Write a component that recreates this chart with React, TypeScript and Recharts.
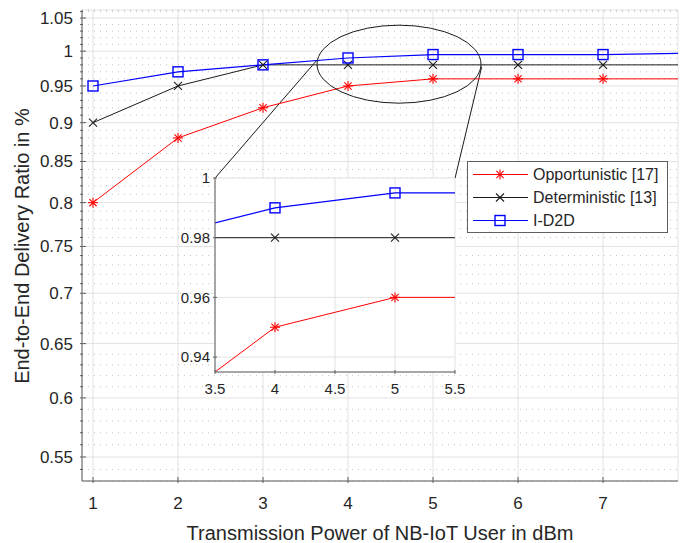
import React from 'react';
import { LineChart, Line, XAxis, YAxis, CartesianGrid, Legend, ReferenceDot, ReferenceLine } from 'recharts';

// transmission power (dBm) and delivery ratios
const powers = [1, 2, 3, 4, 5, 6, 7, 8];
const opportunistic = [0.8, 0.88, 0.92, 0.95, 0.96, 0.96, 0.96, 0.96];
const deterministic = [0.9, 0.95, 0.98, 0.98, 0.98, 0.98, 0.98, 0.98];
const id2d = [0.95, 0.97, 0.98, 0.99, 0.995, 0.995, 0.995, 0.997];

const seriesNames = ['Opportunistic [17]', 'Deterministic [13]', 'I-D2D'];

const xTicks = [1, 2, 3, 4, 5, 6, 7];
const yMajor = [0.55, 0.6, 0.65, 0.7, 0.75, 0.8, 0.85, 0.9, 0.95, 1, 1.05];
const yMinor = [
  0.54, 0.56, 0.57, 0.58, 0.59, 0.61, 0.62, 0.63, 0.64, 0.66, 0.67, 0.68, 0.69,
  0.71, 0.72, 0.73, 0.74, 0.76, 0.77, 0.78, 0.79, 0.81, 0.82, 0.83, 0.84,
  0.86, 0.87, 0.88, 0.89, 0.91, 0.92, 0.93, 0.94, 0.96, 0.97, 0.98, 0.99,
  1.01, 1.02, 1.03, 1.04, 1.06,
];
const yAll = [...yMajor, ...yMinor].sort((a, b) => a - b);

const insetXTicks = [3.5, 4, 4.5, 5, 5.5];
const insetYTicks = [0.94, 0.96, 0.98, 1];

const rows = powers.map((x, i) => ({
  x,
  opp: opportunistic[i],
  det: deterministic[i],
  d2d: id2d[i],
}));

const FONT = '"Liberation Sans", Arial, Helvetica, sans-serif';
const TEXT = '#262626';
const AXIS = '#5f5f5f';
const GRID = '#e2e2e2';
const MINOR = '#c4c4c4';
const RED = '#ff0000';
const BLACK = '#1a1a1a';
const BLUE = '#0000ff';

const Star = ({ cx, cy, color }: any) => (
  <g stroke={color} strokeWidth={1.1}>
    <line x1={cx - 5} x2={cx + 5} y1={cy} y2={cy} />
    <line x1={cx} x2={cx} y1={cy - 5} y2={cy + 5} />
    <line x1={cx - 3.6} x2={cx + 3.6} y1={cy - 3.6} y2={cy + 3.6} />
    <line x1={cx - 3.6} x2={cx + 3.6} y1={cy + 3.6} y2={cy - 3.6} />
  </g>
);

const Cross = ({ cx, cy, color }: any) => (
  <g stroke={color} strokeWidth={1.1}>
    <line x1={cx - 4} x2={cx + 4} y1={cy - 4} y2={cy + 4} />
    <line x1={cx - 4} x2={cx + 4} y1={cy + 4} y2={cy - 4} />
  </g>
);

const Square = ({ cx, cy, color }: any) => (
  <rect x={cx - 5} y={cy - 5} width={10} height={10} fill="none" stroke={color} strokeWidth={1.4} />
);

const markerFor = (key: string, cx: number, cy: number) => {
  if (key === 'opp') return <Star cx={cx} cy={cy} color={RED} />;
  if (key === 'det') return <Cross cx={cx} cy={cy} color={BLACK} />;
  return <Square cx={cx} cy={cy} color={BLUE} />;
};

const dotFor = (key: string) => (p: any) => (
  <g key={`${key}-${p.index}`}>{p.cx != null && p.cy != null ? markerFor(key, p.cx, p.cy) : null}</g>
);

// main axes ticks (MATLAB style, pointing inward)
const LeftTick = (props: any) => {
  const { x, y, payload } = props;
  const major = yMajor.includes(payload.value);
  return (
    <g>
      <line x1={x} x2={x + (major ? 6 : 3)} y1={y} y2={y} stroke={AXIS} />
      {major && (
        <text x={x - 7} y={y} dy="0.35em" textAnchor="end" fontSize={17} fill={TEXT} fontFamily={FONT}>
          {payload.value}
        </text>
      )}
    </g>
  );
};

const RightTick = (props: any) => {
  const { x, y, payload } = props;
  const major = yMajor.includes(payload.value);
  return <line x1={x} x2={x - (major ? 6 : 3)} y1={y} y2={y} stroke={AXIS} />;
};

const BottomTick = (props: any) => {
  const { x, y, payload } = props;
  return (
    <g>
      <line x1={x} x2={x} y1={y} y2={y - 6} stroke={AXIS} />
      <text x={x} y={y + 14} dy="0.71em" textAnchor="middle" fontSize={17} fill={TEXT} fontFamily={FONT}>
        {payload.value}
      </text>
    </g>
  );
};

const TopTick = (props: any) => {
  const { x, y } = props;
  return <line x1={x} x2={x} y1={y} y2={y + 6} stroke={AXIS} />;
};

// inset ticks
const InsetLeftTick = (props: any) => {
  const { x, y, payload } = props;
  return (
    <g>
      <line x1={x} x2={x + 4} y1={y} y2={y} stroke={AXIS} />
      <text x={x - 3} y={y} dy="0.35em" textAnchor="end" fontSize={15} fill={TEXT} fontFamily={FONT}>
        {payload.value}
      </text>
    </g>
  );
};

const InsetRightTick = (props: any) => {
  const { x, y } = props;
  return <line x1={x} x2={x - 4} y1={y} y2={y} stroke={AXIS} />;
};

const InsetBottomTick = (props: any) => {
  const { x, y, payload } = props;
  return (
    <g>
      <line x1={x} x2={x} y1={y} y2={y - 4} stroke={AXIS} />
      <text x={x} y={y + 9} dy="0.71em" textAnchor="middle" fontSize={15} fill={TEXT} fontFamily={FONT}>
        {payload.value}
      </text>
    </g>
  );
};

const InsetTopTick = (props: any) => {
  const { x, y } = props;
  return <line x1={x} x2={x} y1={y} y2={y + 4} stroke={AXIS} />;
};

const LegendBox = (props: any) => {
  const items = [...(props.payload || [])].sort(
    (a: any, b: any) => seriesNames.indexOf(a.value) - seriesNames.indexOf(b.value)
  );
  return (
    <div
      style={{
        background: '#fff',
        border: `1px solid ${AXIS}`,
        width: 199,
        paddingTop: 1,
        fontFamily: FONT,
        fontSize: 16,
        color: TEXT,
      }}
    >
      {items.map((it: any) => (
        <div key={it.value} style={{ display: 'flex', alignItems: 'center', height: 23 }}>
          <svg width={62} height={23} style={{ display: 'block' }}>
            <line x1={5} x2={60} y1={11.5} y2={11.5} stroke={it.color} strokeWidth={1} />
            {markerFor(String(it.dataKey), 32, 11.5)}
          </svg>
          <span style={{ marginLeft: 3, whiteSpace: 'nowrap' }}>{it.value}</span>
        </div>
      ))}
    </div>
  );
};

const Ellipse = (p: any) => (
  <ellipse cx={p.cx} cy={p.cy} rx={82} ry={39} fill="none" stroke={BLACK} strokeWidth={1} />
);

export default function App() {
  const xDomain = [0.8706, 7.882];
  const yDomain = [0.5309, 1.0625];

  return (
    <div style={{ position: 'absolute', left: 0, top: 0, width: 691, height: 543, background: '#fff', fontFamily: FONT }}>
      <LineChart width={691} height={543} data={rows} margin={{ top: 10, right: 13, left: 0, bottom: 0 }}>
        <CartesianGrid yAxisId="gridMajor" stroke={GRID} strokeWidth={1} />
        <CartesianGrid yAxisId="gridMinor" vertical={false} stroke={MINOR} strokeDasharray="1 5" />
        <XAxis
          type="number"
          dataKey="x"
          domain={xDomain}
          allowDataOverflow
          ticks={xTicks}
          interval={0}
          height={62}
          tickSize={0}
          tick={<BottomTick />}
          axisLine={{ stroke: AXIS }}
          label={{
            value: 'Transmission Power of NB-IoT User in dBm',
            position: 'insideBottom',
            offset: 3,
            fontSize: 20,
            fill: TEXT,
            fontFamily: FONT,
          }}
        />
        <XAxis
          xAxisId="top"
          orientation="top"
          type="number"
          dataKey="x"
          domain={xDomain}
          allowDataOverflow
          ticks={xTicks}
          interval={0}
          height={0}
          tickSize={0}
          tick={<TopTick />}
          axisLine={{ stroke: AXIS }}
        />
        <YAxis
          type="number"
          scale="log"
          domain={yDomain}
          allowDataOverflow
          ticks={yAll}
          interval={0}
          width={82}
          tickSize={0}
          tick={<LeftTick />}
          axisLine={{ stroke: AXIS }}
        />
        <YAxis
          yAxisId="gridMajor"
          orientation="right"
          type="number"
          scale="log"
          domain={yDomain}
          allowDataOverflow
          ticks={yMajor}
          interval={0}
          width={0}
          tickSize={0}
          tick={<RightTick />}
          axisLine={false}
        />
        <YAxis
          yAxisId="gridMinor"
          orientation="right"
          type="number"
          scale="log"
          domain={yDomain}
          allowDataOverflow
          ticks={yMinor}
          interval={0}
          width={0}
          tickSize={0}
          tick={<RightTick />}
          axisLine={{ stroke: AXIS }}
        />
        <Legend
          layout="vertical"
          align="center"
          verticalAlign="middle"
          content={<LegendBox />}
          wrapperStyle={{ left: 467, top: 161, width: 'auto' }}
        />
        <ReferenceDot x={4.6} y={0.981} r={1} shape={Ellipse} />
        <ReferenceLine segment={[{ x: 3.635, y: 0.987 }, { x: 2.435, y: 0.8294 }]} stroke={BLACK} strokeWidth={1} />
        <ReferenceLine segment={[{ x: 5.573, y: 0.9773 }, { x: 5.259, y: 0.8294 }]} stroke={BLACK} strokeWidth={1} />
        <Line
          name={seriesNames[0]}
          dataKey="opp"
          stroke={RED}
          strokeWidth={1}
          dot={dotFor('opp')}
          activeDot={false}
          isAnimationActive={false}
        />
        <Line
          name={seriesNames[1]}
          dataKey="det"
          stroke={BLACK}
          strokeWidth={1}
          dot={dotFor('det')}
          activeDot={false}
          isAnimationActive={false}
        />
        <Line
          name={seriesNames[2]}
          dataKey="d2d"
          stroke={BLUE}
          strokeWidth={1.2}
          dot={dotFor('d2d')}
          activeDot={false}
          isAnimationActive={false}
        />
      </LineChart>

      <div
        style={{
          position: 'absolute',
          left: 22,
          top: 245.5,
          transform: 'translate(-50%, -50%) rotate(-90deg)',
          transformOrigin: 'center',
          whiteSpace: 'nowrap',
          fontSize: 20,
          lineHeight: 1,
          color: TEXT,
          fontFamily: FONT,
        }}
      >
        End-to-End Delivery Ratio in %
      </div>

      <div style={{ position: 'absolute', left: 150, top: 168 }}>
        <LineChart width={315} height={230} data={rows} margin={{ top: 10, right: 10, left: 0, bottom: 0 }}>
          <CartesianGrid fill="#fff" stroke={GRID} />
          <XAxis
            type="number"
            dataKey="x"
            domain={[3.5, 5.5]}
            allowDataOverflow
            ticks={insetXTicks}
            interval={0}
            height={26}
            tickSize={0}
            tick={<InsetBottomTick />}
            axisLine={{ stroke: AXIS }}
          />
          <XAxis
            xAxisId="top"
            orientation="top"
            type="number"
            dataKey="x"
            domain={[3.5, 5.5]}
            allowDataOverflow
            ticks={insetXTicks}
            interval={0}
            height={0}
            tickSize={0}
            tick={<InsetTopTick />}
            axisLine={{ stroke: AXIS }}
          />
          <YAxis
            type="number"
            domain={[0.935, 1]}
            allowDataOverflow
            ticks={insetYTicks}
            interval={0}
            width={65}
            tickSize={0}
            tick={<InsetLeftTick />}
            axisLine={{ stroke: AXIS }}
          />
          <YAxis
            yAxisId="right"
            orientation="right"
            type="number"
            domain={[0.935, 1]}
            allowDataOverflow
            ticks={insetYTicks}
            interval={0}
            width={0}
            tickSize={0}
            tick={<InsetRightTick />}
            axisLine={{ stroke: AXIS }}
          />
          <Line dataKey="opp" stroke={RED} strokeWidth={1} dot={dotFor('opp')} activeDot={false} isAnimationActive={false} />
          <Line dataKey="det" stroke={BLACK} strokeWidth={1} dot={dotFor('det')} activeDot={false} isAnimationActive={false} />
          <Line dataKey="d2d" stroke={BLUE} strokeWidth={1.2} dot={dotFor('d2d')} activeDot={false} isAnimationActive={false} />
        </LineChart>
      </div>
    </div>
  );
}
